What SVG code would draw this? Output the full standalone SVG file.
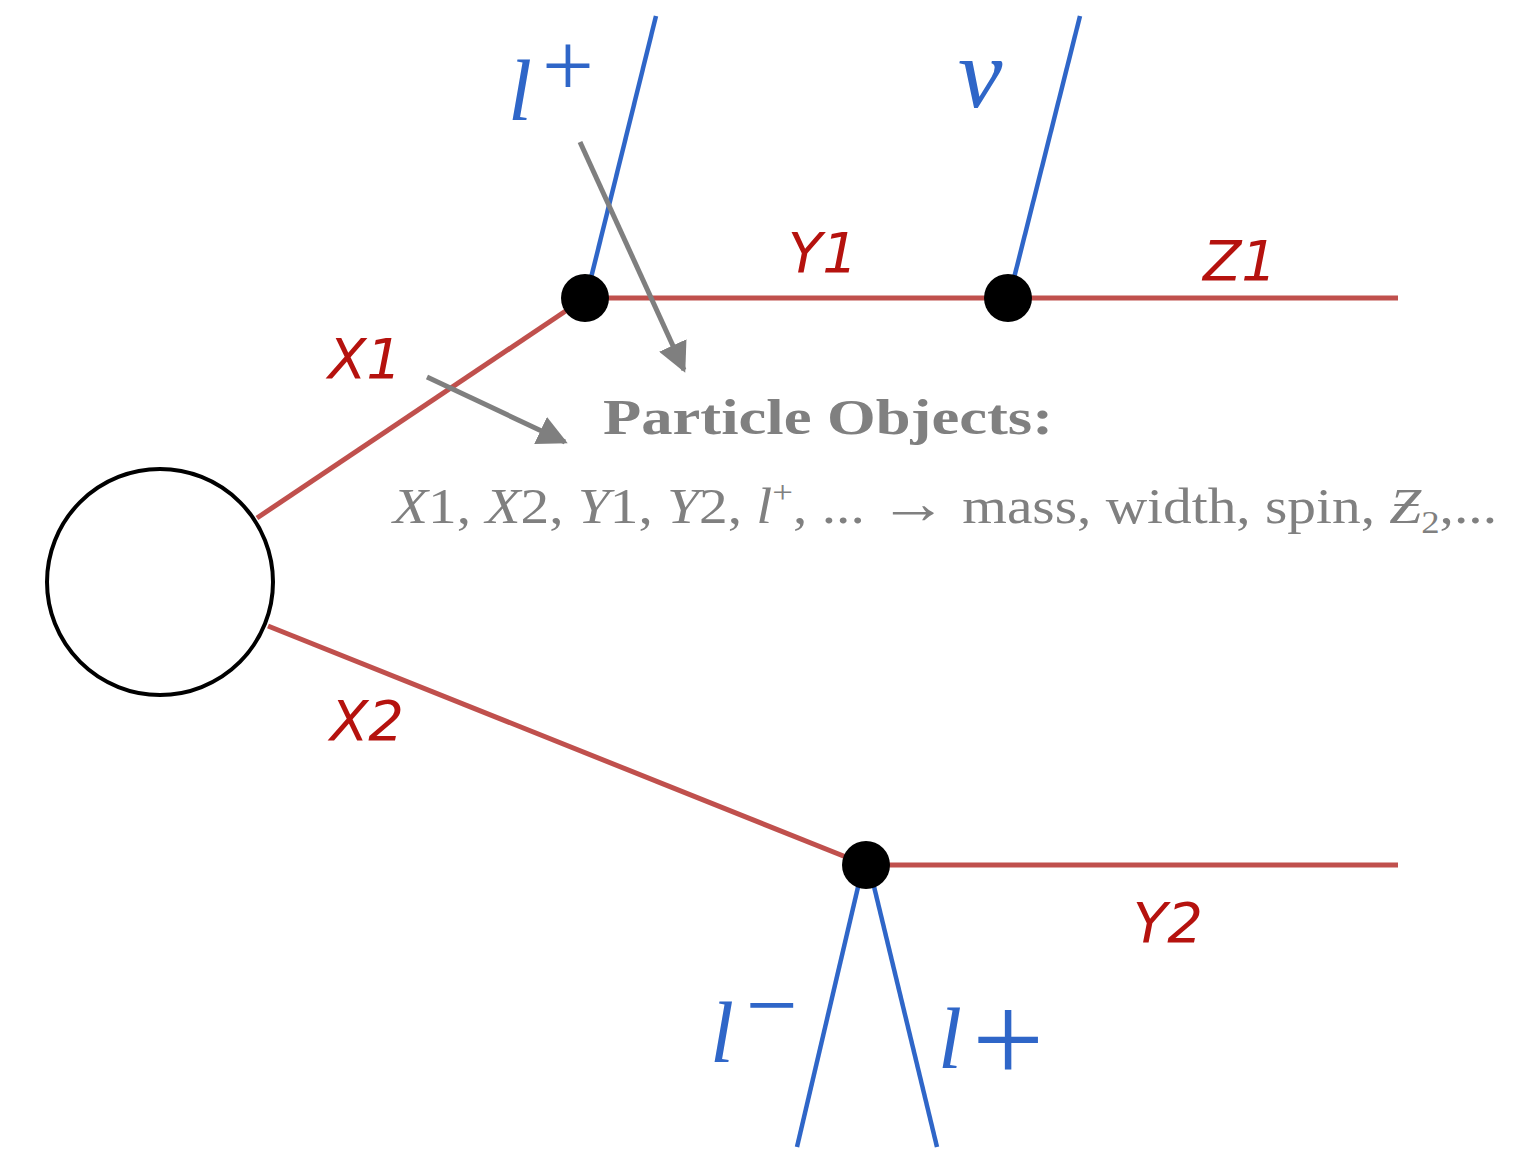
<svg xmlns="http://www.w3.org/2000/svg" width="1537" height="1149" viewBox="0 0 1537 1149">
<style>
.red{stroke:#c0504d;stroke-width:5;fill:none}
.blue{stroke:#2f66c8;stroke-width:4.5;fill:none}
.gray{stroke:#7f7f7f;stroke-width:5;fill:none}
.rl{font-family:"DejaVu Sans",sans-serif;font-style:oblique;font-size:56px;fill:#b5120e}
.bl{font-family:"Liberation Serif",serif;font-style:italic;fill:#2f66c8}
.bp{font-family:"Liberation Serif",serif;fill:#2f66c8}
.gt{font-family:"Liberation Serif",serif;fill:#808080}
</style>
<defs>
<marker id="ah" viewBox="0 0 10 10" refX="9" refY="5" markerWidth="6" markerHeight="6" orient="auto" markerUnits="strokeWidth">
<path d="M0,0 L10,5 L0,10 z" fill="#7f7f7f"/>
</marker>
</defs>
<rect width="1537" height="1149" fill="#fff"/>
<g id="connectors">
<line class="red" x1="257" y1="518" x2="585" y2="298"/>
<line class="red" x1="585" y1="298" x2="1398" y2="298"/>
<line class="red" x1="268" y1="626" x2="866" y2="865"/>
<line class="red" x1="866" y1="865" x2="1398" y2="865"/>
<line class="blue" x1="588" y1="290" x2="656" y2="16"/>
<line class="blue" x1="1011" y1="290" x2="1080" y2="16"/>
<line class="blue" x1="862" y1="870" x2="797" y2="1147"/>
<line class="blue" x1="870" y1="870" x2="937" y2="1147"/>
<line class="gray" x1="580" y1="142" x2="684" y2="370" marker-end="url(#ah)"/>
<line class="gray" x1="427" y1="377" x2="565" y2="442" marker-end="url(#ah)"/>
</g>
<g id="blob"><circle cx="160" cy="582" r="113" fill="#fff" stroke="#000" stroke-width="4"/></g>
<g id="vertexA"><circle cx="585" cy="298" r="24" fill="#000"/></g>
<g id="vertexB"><circle cx="1008" cy="298" r="24" fill="#000"/></g>
<g id="vertexC"><circle cx="866" cy="865" r="24" fill="#000"/></g>
<g id="labels">
<text class="rl" x="328" y="378">X1</text>
<text class="rl" x="788" y="272">Y1</text>
<text class="rl" x="1203" y="280">Z1</text>
<text class="rl" x="330" y="740">X2</text>
<text class="rl" x="1133" y="942">Y2</text>
<text class="bl" x="508" y="120" font-size="86">l</text>
<text class="bp" x="542" y="96" font-size="92">+</text>
<text class="bl" x="958" y="107" font-size="100">ν</text>
<text class="bl" x="710" y="1062" font-size="86">l</text>
<text class="bp" x="746" y="1036" font-size="92">−</text>
<text class="bl" x="938" y="1068" font-size="86">l</text>
<text class="bp" x="972" y="1082" font-size="128">+</text>
<text class="gt" x="603" y="434" font-size="50" font-weight="bold" textLength="450" lengthAdjust="spacingAndGlyphs">Particle Objects:</text>
<text class="gt" x="393" y="523" font-size="50" textLength="1104" lengthAdjust="spacingAndGlyphs"><tspan font-style="italic">X</tspan>1, <tspan font-style="italic">X</tspan>2, <tspan font-style="italic">Y</tspan>1, <tspan font-style="italic">Y</tspan>2, <tspan font-style="italic">l</tspan><tspan font-size="32" dy="-20">+</tspan><tspan dy="20">, ... </tspan><tspan font-size="60">→</tspan> mass, width, spin, <tspan font-style="italic">Ƶ</tspan><tspan font-size="32" dy="10">2</tspan><tspan dy="-10">,...</tspan></text>
</g>
</svg>
